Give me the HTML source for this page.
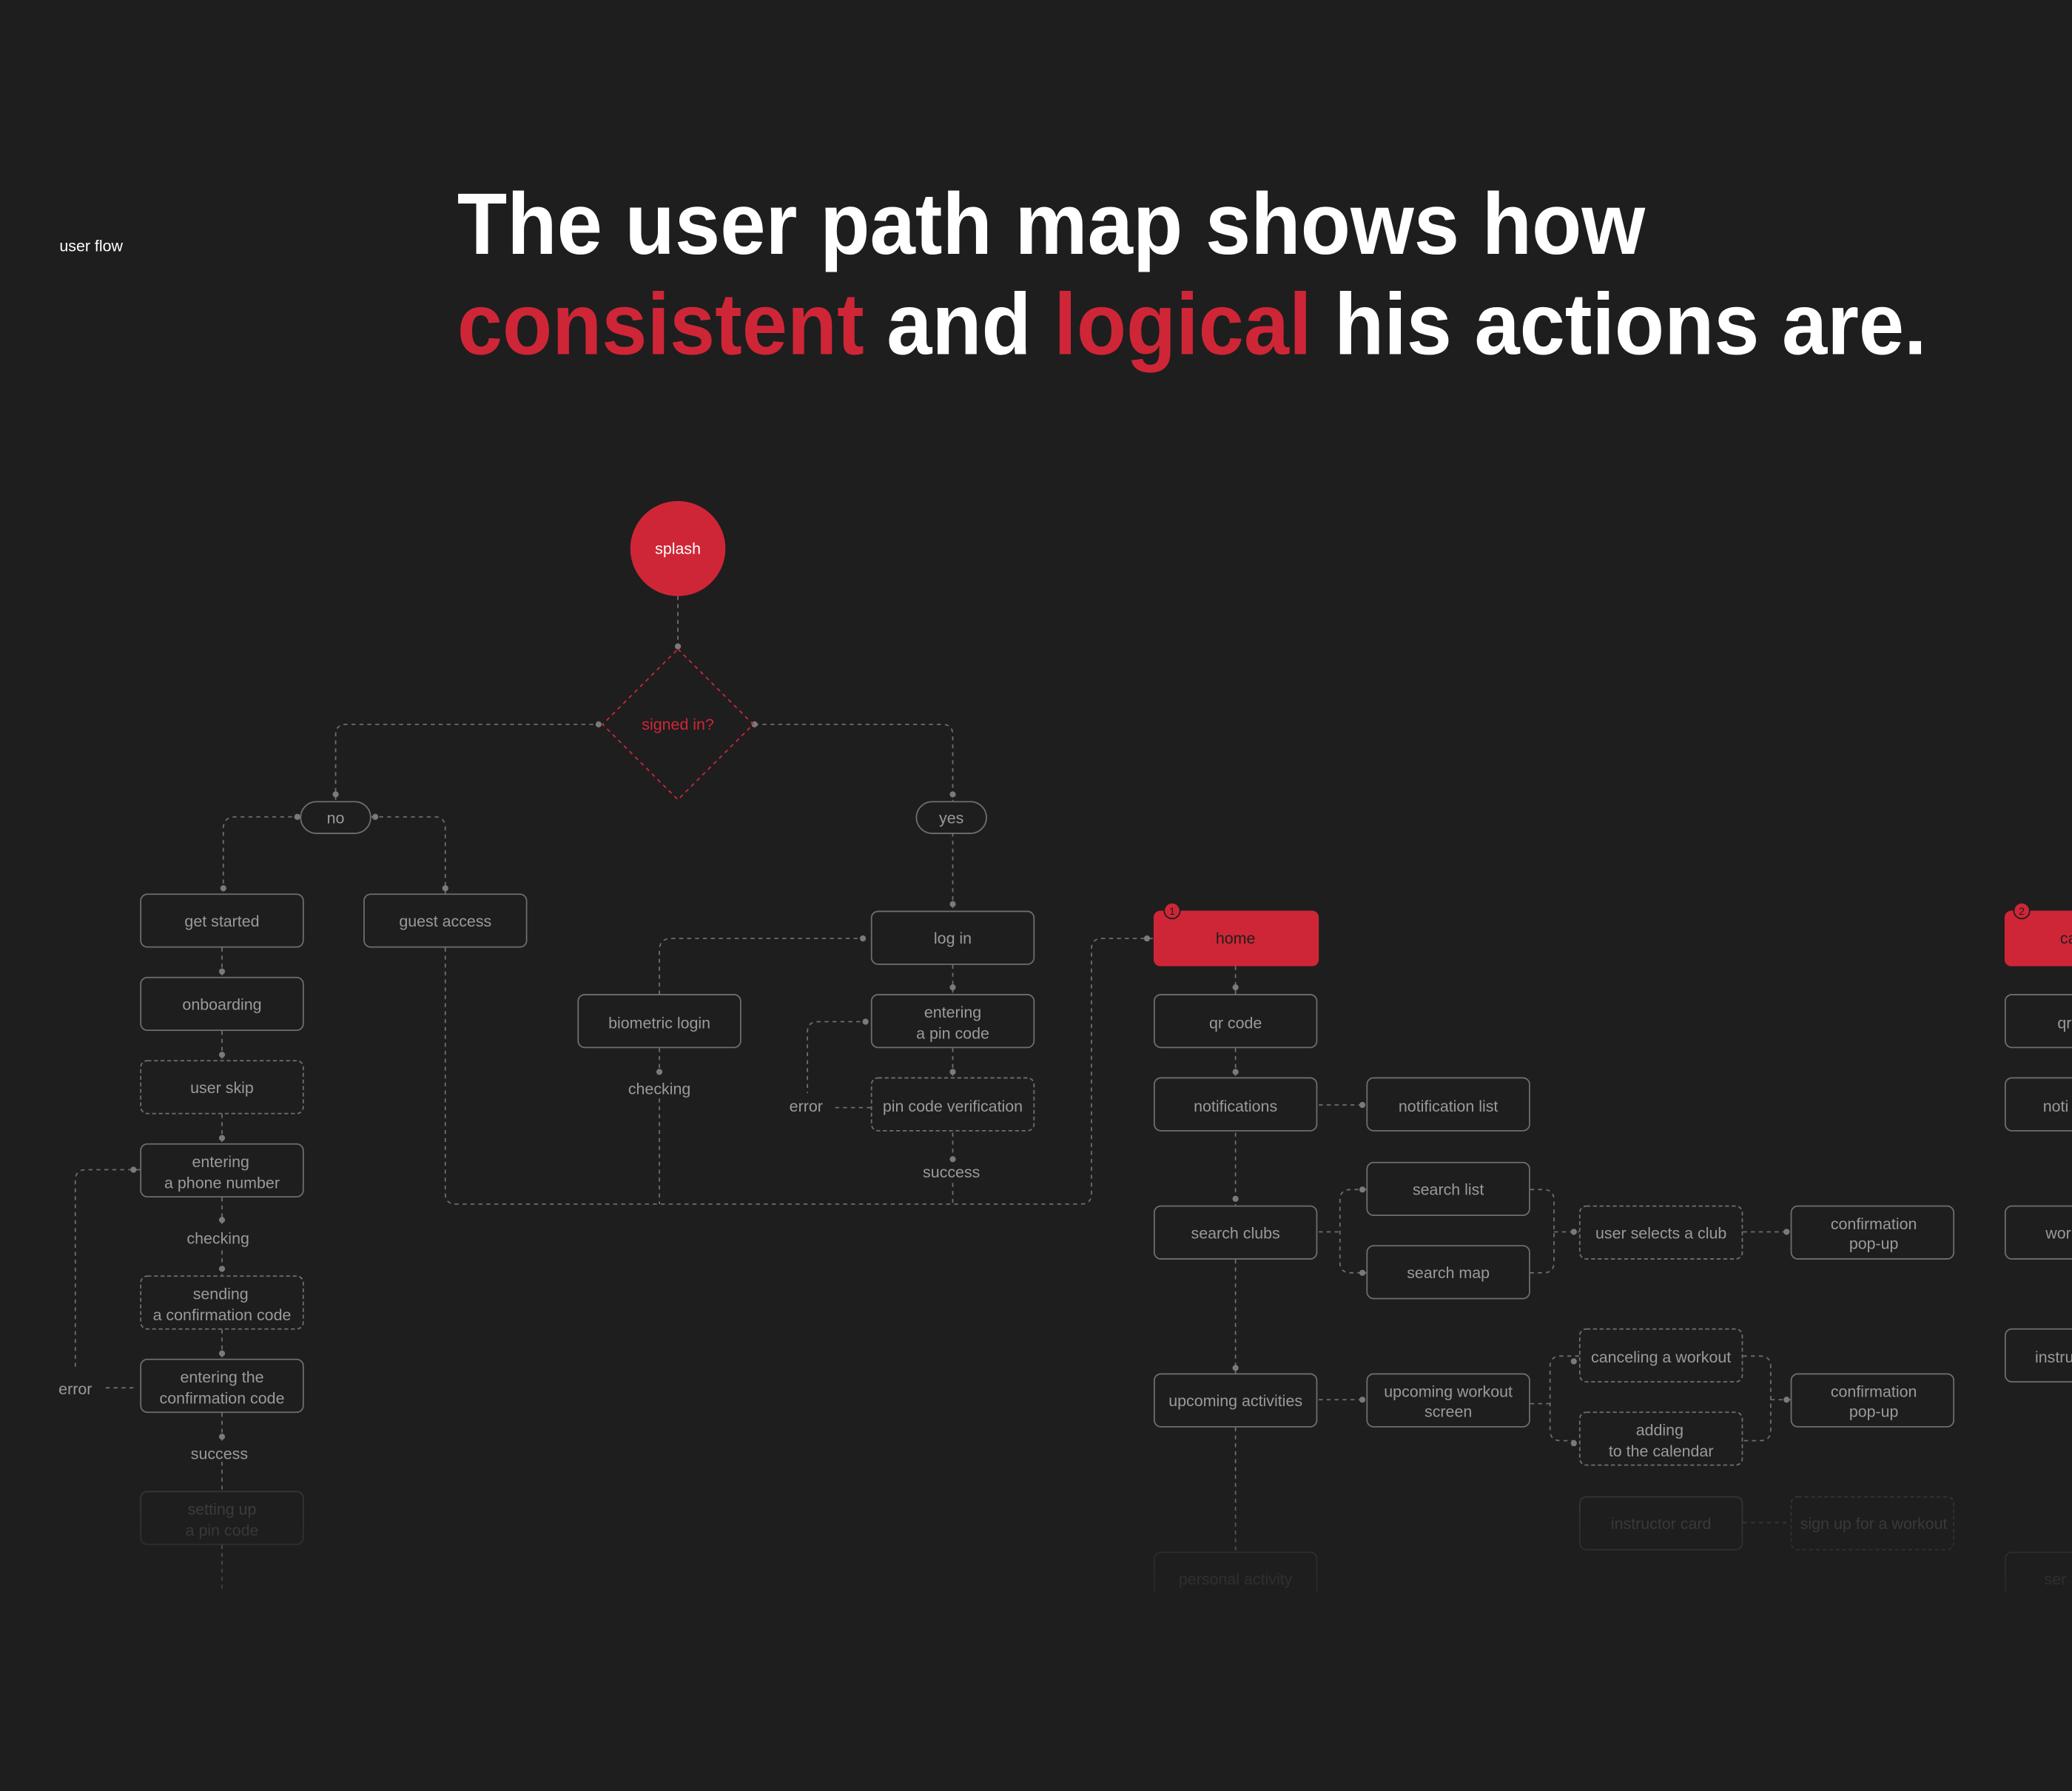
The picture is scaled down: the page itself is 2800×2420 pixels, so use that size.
<!DOCTYPE html>
<html><head><meta charset="utf-8"><style>
html,body{margin:0;padding:0;background:#1e1e1e;}
svg{display:block}
text{font-family:"Liberation Sans",sans-serif;}
</style></head><body>
<svg width="2800" height="2420" viewBox="0 0 1568 1355" xmlns="http://www.w3.org/2000/svg">
<rect width="1568" height="1355" fill="#1e1e1e"/>
<text x="45" y="190" font-size="12" fill="#fff">user flow</text>
<text x="346" y="192" font-size="66" font-weight="bold" fill="#fff" textLength="899" lengthAdjust="spacingAndGlyphs">The user path map shows how</text>
<text x="346" y="268" font-size="66" font-weight="bold" fill="#fff" textLength="1112" lengthAdjust="spacingAndGlyphs"><tspan fill="#cf2637">consistent</tspan> and <tspan fill="#cf2637">logical</tspan> his actions are.</text>

<!-- connectors -->
<g fill="none" stroke="#6e6e6e" stroke-width="1" stroke-dasharray="3 3">
<path d="M513 451 V490"/>
<path d="M455 548 H262 Q254 548 254 556 V606"/>
<path d="M571 548 H713 Q721 548 721 556 V606"/>
<path d="M227 618 H178 Q169 618 169 627 V676"/>
<path d="M281 618 H329 Q337 618 337 627 V676"/>
<path d="M721 630 V689"/>
<path d="M168 717 V739 M168 780 V802 M168 843 V865 M168 906 V926 M168 946 V965 M168 1006 V1028 M168 1069 V1090 M168 1106 V1128 M168 1169 V1205"/>
<path d="M106 885 H65 Q57 885 57 893 V1035"/>
<path d="M80 1050 H104"/>
<path d="M337 717 V903 Q337 911 345 911 H818 Q826 911 826 903 V718 Q826 710 834 710 H873"/>
<path d="M499 793 V813 M499 831 V911"/>
<path d="M655 710 H508 Q499 710 499 719 V752"/>
<path d="M721 730 V752 M721 793 V815 M721 857 V877 M721 895 V911"/>
<path d="M657 773 H619 Q611 773 611 781 V827"/>
<path d="M632 838 H659"/>
<path d="M935 731 V752 M935 793 V815 M935 857 V912 M935 953 V1039 M935 1080 V1174"/>
<path d="M998 836 H1034 M998 1059 H1034"/>
<path d="M998 932 H1014 M1034 900 H1022 Q1014 900 1014 908 V955 Q1014 963 1022 963 H1034"/>
<path d="M1158 900 H1168 Q1176 900 1176 908 V955 Q1176 963 1168 963 H1158 M1176 932 H1195"/>
<path d="M1319 932 H1355"/>
<path d="M1158 1062 H1173 M1195 1026 H1181 Q1173 1026 1173 1034 V1082 Q1173 1090 1181 1090 H1195"/>
<path d="M1319 1026 H1332 Q1340 1026 1340 1034 V1082 Q1340 1090 1332 1090 H1319 M1340 1059 H1355"/>
<path d="M1319 1152 H1355" opacity="0.4"/>
</g>
<g fill="#7a7a7a">
<circle cx="513" cy="489" r="2.3"/><circle cx="453" cy="548" r="2.3"/><circle cx="571" cy="548" r="2.3"/>
<circle cx="254" cy="601" r="2.3"/><circle cx="721" cy="601" r="2.3"/>
<circle cx="225" cy="618" r="2.3"/><circle cx="284" cy="618" r="2.3"/>
<circle cx="169" cy="672" r="2.3"/><circle cx="337" cy="672" r="2.3"/><circle cx="721" cy="684" r="2.3"/>
<circle cx="168" cy="735" r="2.3"/><circle cx="168" cy="798" r="2.3"/><circle cx="168" cy="861" r="2.3"/><circle cx="168" cy="923" r="2.3"/><circle cx="168" cy="960" r="2.3"/><circle cx="168" cy="1024" r="2.3"/><circle cx="168" cy="1087" r="2.3"/>
<circle cx="101" cy="885" r="2.3"/>
<circle cx="653" cy="710" r="2.3"/><circle cx="721" cy="747" r="2.3"/><circle cx="721" cy="811" r="2.3"/><circle cx="655" cy="773" r="2.3"/><circle cx="499" cy="811" r="2.3"/><circle cx="721" cy="877" r="2.3"/>
<circle cx="868" cy="710" r="2.3"/>
<circle cx="935" cy="747" r="2.3"/><circle cx="935" cy="811" r="2.3"/><circle cx="935" cy="907" r="2.3"/><circle cx="935" cy="1035" r="2.3"/>
<circle cx="1031" cy="836" r="2.3"/><circle cx="1031" cy="900" r="2.3"/><circle cx="1031" cy="963" r="2.3"/><circle cx="1191" cy="932" r="2.3"/><circle cx="1352" cy="932" r="2.3"/>
<circle cx="1031" cy="1059" r="2.3"/><circle cx="1191" cy="1030" r="2.3"/><circle cx="1191" cy="1092" r="2.3"/><circle cx="1352" cy="1059" r="2.3"/>
</g>

<!-- splash & diamond -->
<circle cx="513" cy="415" r="36" fill="#cf2637"/>
<text x="513" y="419" font-size="12" fill="#fff" text-anchor="middle">splash</text>
<polygon points="513,491 570,548 513,605 456,548" fill="none" stroke="#cf2637" stroke-dasharray="3 3"/>
<text x="513" y="552" font-size="12" fill="#cf2637" text-anchor="middle">signed in?</text>

<g fill="none" stroke="#6e6e6e" stroke-width="1">
<rect x="227.5" y="606.5" width="53" height="24" rx="12"/>
<rect x="693.5" y="606.5" width="53" height="24" rx="12"/>
<rect x="106.5" y="676.5" width="123" height="40" rx="5"/>
<rect x="275.5" y="676.5" width="123" height="40" rx="5"/>
<rect x="106.5" y="739.5" width="123" height="40" rx="5"/>
<rect x="106.5" y="865.5" width="123" height="40" rx="5"/>
<rect x="106.5" y="1028.5" width="123" height="40" rx="5"/>
<rect x="659.5" y="689.5" width="123" height="40" rx="5"/>
<rect x="437.5" y="752.5" width="123" height="40" rx="5"/>
<rect x="659.5" y="752.5" width="123" height="40" rx="5"/>
<rect x="873.5" y="752.5" width="123" height="40" rx="5"/>
<rect x="873.5" y="815.5" width="123" height="40" rx="5"/>
<rect x="1034.5" y="815.5" width="123" height="40" rx="5"/>
<rect x="873.5" y="912.5" width="123" height="40" rx="5"/>
<rect x="1034.5" y="879.5" width="123" height="40" rx="5"/>
<rect x="1034.5" y="942.5" width="123" height="40" rx="5"/>
<rect x="1355.5" y="912.5" width="123" height="40" rx="5"/>
<rect x="873.5" y="1039.5" width="123" height="40" rx="5"/>
<rect x="1034.5" y="1039.5" width="123" height="40" rx="5"/>
<rect x="1355.5" y="1039.5" width="123" height="40" rx="5"/>
<rect x="1517.5" y="752.5" width="123" height="40" rx="5"/>
<rect x="1517.5" y="815.5" width="123" height="40" rx="5"/>
<rect x="1517.5" y="912.5" width="123" height="40" rx="5"/>
<rect x="1517.5" y="1005.5" width="123" height="40" rx="5"/>
</g>
<g fill="none" stroke="#6e6e6e" stroke-width="1" stroke-dasharray="3 2">
<rect x="106.5" y="802.5" width="123" height="40" rx="5"/>
<rect x="106.5" y="965.5" width="123" height="40" rx="5"/>
<rect x="659.5" y="815.5" width="123" height="40" rx="5"/>
<rect x="1195.5" y="912.5" width="123" height="40" rx="5"/>
<rect x="1195.5" y="1005.5" width="123" height="40" rx="5"/>
<rect x="1195.5" y="1068.5" width="123" height="40" rx="5"/>
</g>
<g fill="none" stroke="#6e6e6e" stroke-width="1" opacity="0.35">
<rect x="106.5" y="1128.5" width="123" height="40" rx="5"/>
<rect x="1195.5" y="1132.5" width="123" height="40" rx="5"/>
<rect x="1355.5" y="1132.5" width="123" height="40" rx="5" stroke-dasharray="3 2"/>
<rect x="873.5" y="1174.5" width="123" height="40" rx="5"/>
<rect x="1517.5" y="1174.5" width="123" height="40" rx="5"/>
</g>
<rect x="873" y="689" width="125" height="42" rx="5" fill="#cf2637"/>
<rect x="1517" y="689" width="125" height="42" rx="5" fill="#cf2637"/>
<circle cx="887" cy="689" r="6" fill="#cf2637" stroke="#1e1e1e" stroke-width="1"/>
<circle cx="1530" cy="689" r="6" fill="#cf2637" stroke="#1e1e1e" stroke-width="1"/>
<text x="887" y="692" font-size="8" fill="#1e1e1e" text-anchor="middle">1</text>
<text x="1530" y="692" font-size="8" fill="#1e1e1e" text-anchor="middle">2</text>

<g font-size="12" fill="#9a9a9a" text-anchor="middle">
<text x="254" y="623">no</text><text x="720" y="623">yes</text>
<text x="168" y="701">get started</text><text x="337" y="701">guest access</text>
<text x="168" y="764">onboarding</text><text x="168" y="827">user skip</text>
<text x="167" y="883">entering</text><text x="168" y="899">a phone number</text>
<text x="165" y="941">checking</text>
<text x="167" y="983">sending</text><text x="168" y="999">a confirmation code</text>
<text x="168" y="1046">entering the</text><text x="168" y="1062">confirmation code</text>
<text x="166" y="1104">success</text>
<text x="57" y="1055">error</text>
<text x="721" y="714">log in</text>
<text x="499" y="778">biometric login</text><text x="499" y="828">checking</text>
<text x="721" y="770">entering</text><text x="721" y="786">a pin code</text>
<text x="721" y="841">pin code verification</text><text x="610" y="841">error</text>
<text x="720" y="891">success</text>
<text x="935" y="714" fill="#1e1e1e">home</text>
<text x="935" y="778">qr code</text><text x="935" y="841">notifications</text>
<text x="1096" y="841">notification list</text>
<text x="935" y="937">search clubs</text>
<text x="1096" y="904">search list</text><text x="1096" y="967">search map</text>
<text x="1257" y="937">user selects a club</text>
<text x="1418" y="930">confirmation</text><text x="1418" y="945">pop-up</text>
<text x="935" y="1064">upcoming activities</text>
<text x="1096" y="1057">upcoming workout</text><text x="1096" y="1072">screen</text>
<text x="1257" y="1031">canceling a workout</text>
<text x="1256" y="1086">adding</text><text x="1257" y="1102">to the calendar</text>
<text x="1418" y="1057">confirmation</text><text x="1418" y="1072">pop-up</text>
<g opacity="0.3">
<text x="168" y="1146">setting up</text><text x="168" y="1162">a pin code</text>
<text x="1257" y="1157">instructor card</text><text x="1418" y="1157">sign up for a workout</text>
<text x="935" y="1199">personal activity</text>
</g>
<g text-anchor="start">
<text x="1559" y="714" fill="#1e1e1e">ca</text>
<text x="1557" y="778">qr</text><text x="1546" y="841">noti</text>
<text x="1548" y="937">wor</text><text x="1540" y="1031">instru</text>
<text x="1547" y="1199" opacity="0.3">ser</text>
</g>
</g>
<defs><linearGradient id="f" x1="0" y1="0" x2="0" y2="1">
<stop offset="0" stop-color="#1e1e1e" stop-opacity="0"/><stop offset="1" stop-color="#1e1e1e" stop-opacity="0.6"/></linearGradient></defs>
<rect x="0" y="1110" width="1568" height="95" fill="url(#f)"/>
<rect x="0" y="1205" width="1568" height="150" fill="#1e1e1e"/>
</svg>
</body></html>
